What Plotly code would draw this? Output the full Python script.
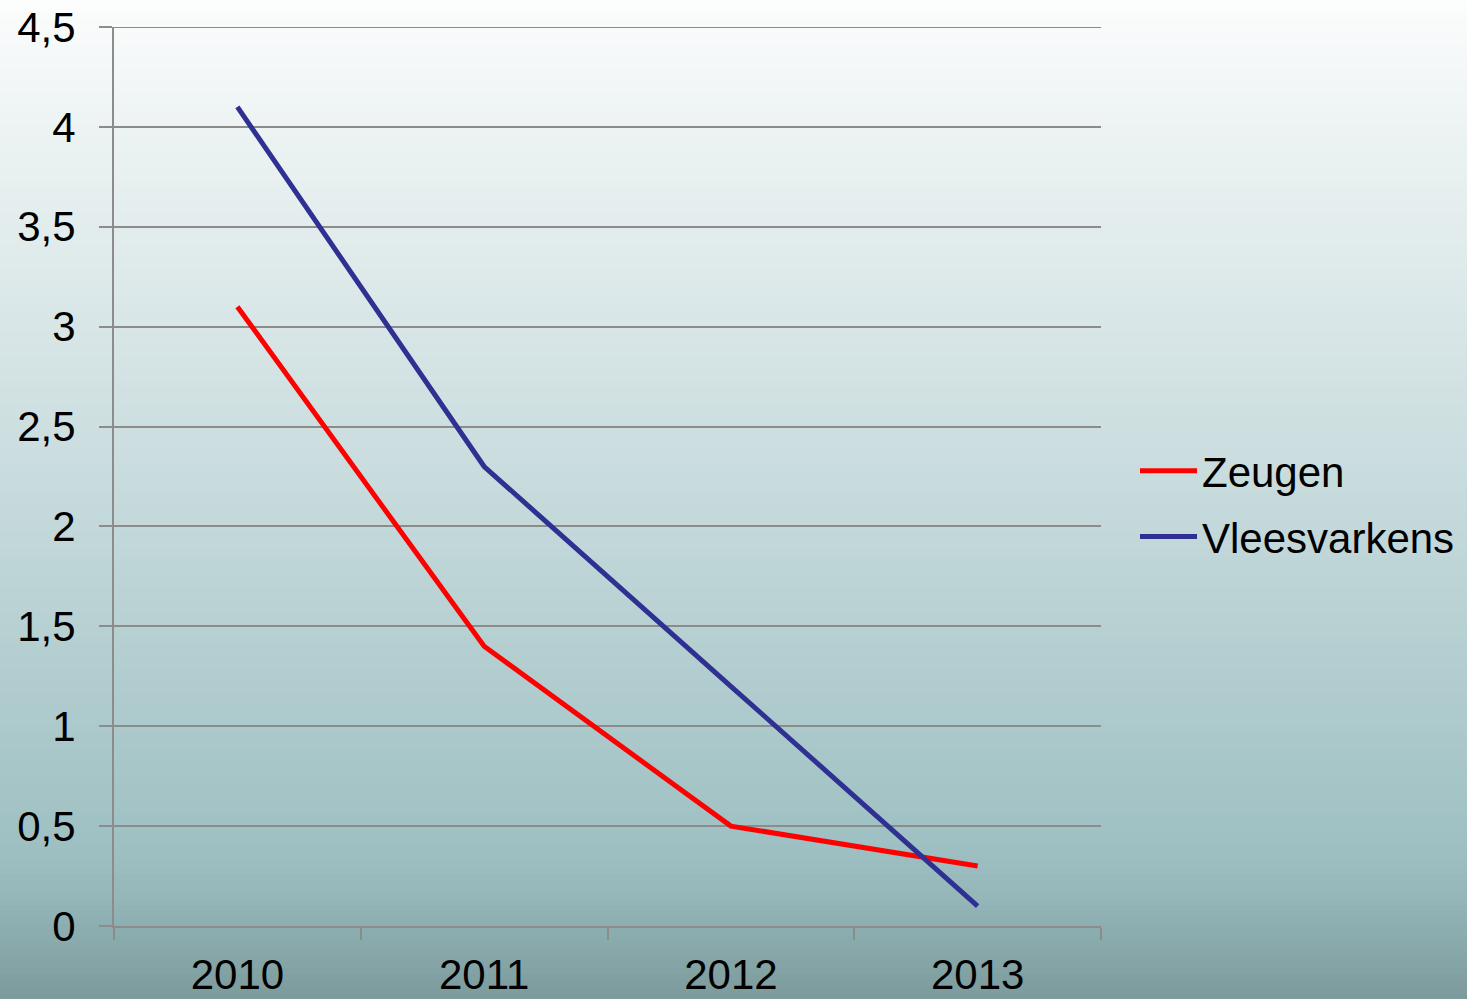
import plotly.graph_objects as go

years = ["2010", "2011", "2012", "2013"]
zeugen = [3.1, 1.4, 0.5, 0.3]
vleesvarkens = [4.1, 2.3, 1.2, 0.1]
y_ticks = [0, 0.5, 1, 1.5, 2, 2.5, 3, 3.5, 4, 4.5]

W, H = 1467, 999
L, R, T, B = 114, 366, 27, 73
pw, ph = W - L - R, H - T - B

# background gradient stops (fraction from top, rgb)
stops = [(0.0, (252, 253, 253)), (0.1, (240, 245, 245)), (0.5, (198, 218, 220)),
         (0.85, (158, 192, 194)), (0.9, (148, 182, 184)), (1.0, (124, 154, 156))]

def col(f):
    for (f0, c0), (f1, c1) in zip(stops[:-1], stops[1:]):
        if f0 <= f <= f1:
            t = (f - f0) / (f1 - f0)
            return "rgb(%d,%d,%d)" % tuple(round(a + (b - a) * t) for a, b in zip(c0, c1))
    return "rgb(%d,%d,%d)" % stops[-1][1]

shapes = []
n = 160
for i in range(n):
    top_px = H * i / n
    bot_px = H * (i + 1) / n + 1
    y0 = (H - B - bot_px) / ph
    y1 = (H - B - top_px) / ph
    shapes.append(dict(type="rect", xref="paper", yref="paper",
                       x0=-L / pw - 0.01, x1=(W - L) / pw + 0.01, y0=y0, y1=y1,
                       fillcolor=col((i + 0.5) / n), line=dict(width=0), layer="below"))
# top gridline (plotly omits the gridline at the range edge)
shapes.append(dict(type="line", xref="paper", yref="y", x0=0, x1=1,
                   y0=max(y_ticks), y1=max(y_ticks),
                   line=dict(color="#8C8C8C", width=2), layer="below"))

fig = go.Figure()
fig.add_trace(go.Scatter(x=years, y=zeugen, mode="lines", name="Zeugen", legendgroup="z",
                         line=dict(color="#FF0000", width=5)))
fig.add_trace(go.Scatter(x=years, y=vleesvarkens, mode="lines", name="Vleesvarkens", legendgroup="v",
                         line=dict(color="#2E3192", width=5)))

font = dict(family="Liberation Sans, Arial, sans-serif", size=42, color="#000000")
fig.update_layout(
    width=W, height=H,
    margin=dict(l=L, r=R, t=T, b=B, pad=0, autoexpand=False),
    paper_bgcolor="rgba(0,0,0,0)", plot_bgcolor="rgba(0,0,0,0)",
    separators=",.",
    font=font,
    shapes=shapes,
    showlegend=True,
    legend=dict(x=(1135 - L) / pw, y=(H - B - 504) / ph, xanchor="left", yanchor="middle",
                bgcolor="rgba(0,0,0,0)", font=font, itemwidth=57, tracegroupgap=8),
    xaxis=dict(type="category", range=[-0.5, 3.5], showgrid=False, automargin=False,
               showline=True, linecolor="#8C8C8C", linewidth=2,
               ticks="outside", tickson="boundaries", ticklen=12, tickwidth=2,
               tickcolor="#8C8C8C", tickfont=font, ticklabelstandoff=11),
    yaxis=dict(range=[0, 4.5], tickvals=y_ticks, showgrid=True, gridcolor="#8C8C8C",
               gridwidth=2, showline=True, linecolor="#8C8C8C", linewidth=2, automargin=False,
               ticks="outside", ticklen=13, tickwidth=2, tickcolor="#8C8C8C",
               tickfont=font, ticklabelstandoff=15, zeroline=False),
)
fig.write_html("out.html", config={"displayModeBar": False},
               post_script="document.body.style.margin='0';document.body.style.padding='0';"
                           "document.body.style.overflow='hidden';")
